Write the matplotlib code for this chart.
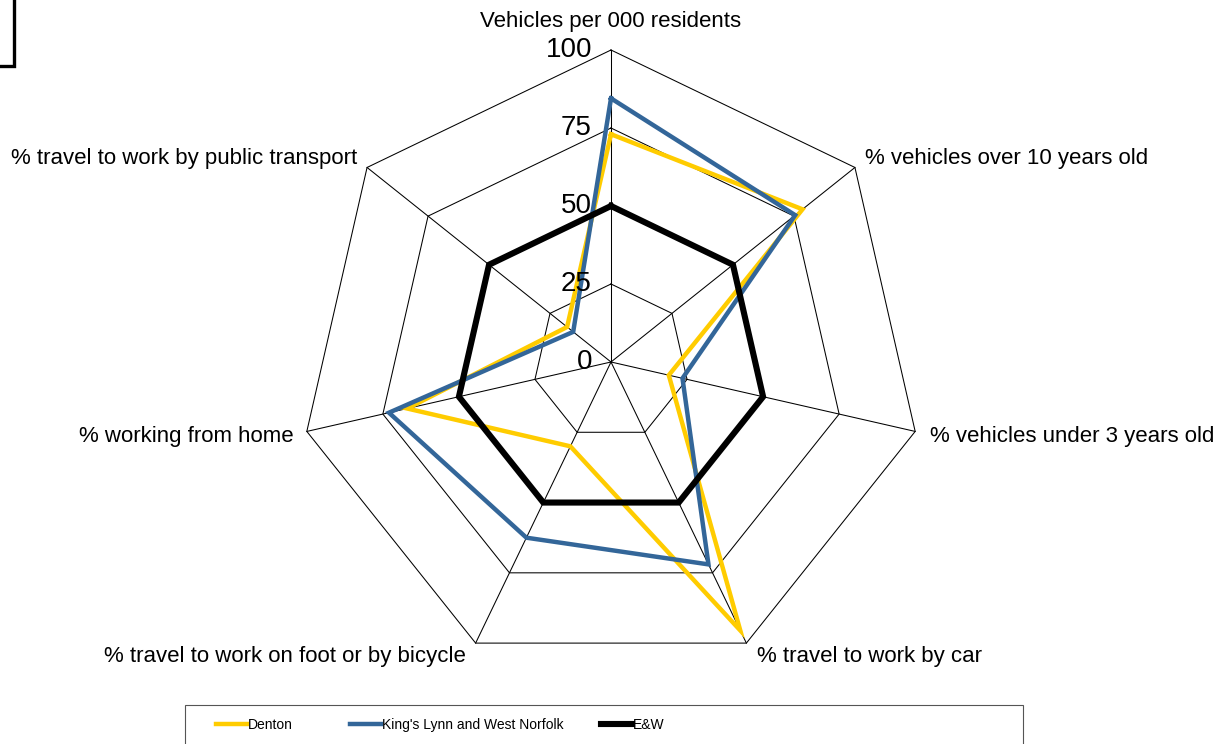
#!/usr/bin/env python3
"""Radar chart: vehicle ownership / travel to work, Denton vs King's Lynn vs E&W."""
import matplotlib

matplotlib.use("Agg")
import matplotlib.pyplot as plt
import numpy as np
from matplotlib.lines import Line2D
from matplotlib.patches import Rectangle

plt.rcParams["font.family"] = ["Liberation Sans", "DejaVu Sans"]

categories = [
    "Vehicles per 000 residents",
    "% vehicles over 10 years old",
    "% vehicles under 3 years old",
    "% travel to work by car",
    "% travel to work on foot or by bicycle",
    "% working from home",
    "% travel to work by public transport",
]
denton = [73, 78.5, 19, 95.5, 30, 67, 18]
kings_lynn = [84.5, 75.5, 23.5, 72, 62.5, 73, 15.5]
e_and_w = [50, 50, 50, 50, 50, 50, 50]
series_names = ["Denton", "King's Lynn and West Norfolk", "E&W"]
ring_levels = [25, 50, 75, 100]
tick_levels = [0, 25, 50, 75, 100]

COLORS = ["#FFCC00", "#336699", "#000000"]
WIDTHS = [3.2, 3.2, 4.4]

W, H, DPI = 1232, 744, 100
CX, CY, R = 611, 362, 312

fig = plt.figure(figsize=(W / DPI, H / DPI), dpi=DPI)
ax = fig.add_axes([(CX - R) / W, (H - CY - R) / H, 2 * R / W, 2 * R / H], projection="polar")
ax.set_theta_zero_location("N")
ax.set_theta_direction(-1)
ax.set_ylim(0, 100)
ax.grid(False)
ax.spines["polar"].set_visible(False)
ax.set_xticks([])
ax.set_yticks([])
ax.patch.set_visible(False)

n = len(categories)
theta = np.arange(n) * 2 * np.pi / n
theta_closed = np.append(theta, theta[0])

# heptagon rings + spokes
for lvl in ring_levels:
    ax.plot(theta_closed, [lvl] * (n + 1), color="black", lw=0.75, zorder=1, clip_on=False)
for t in theta:
    ax.plot([t, t], [0, 100], color="black", lw=0.75, zorder=1, clip_on=False)

for vals, name, col, lw in zip([denton, kings_lynn, e_and_w], series_names, COLORS, WIDTHS):
    ax.plot(theta_closed, list(vals) + [vals[0]], color=col, lw=lw, label=name,
            solid_joinstyle="miter", zorder=3, clip_on=False)

# radial tick labels
for lvl in tick_levels:
    ax.annotate(str(lvl), xy=(0, lvl), xytext=(-19, 0), textcoords="offset pixels",
                ha="right", va="center", fontsize=20, zorder=4)

# category labels
label_pos = [
    ((0, 18), "center", "bottom"),
    ((10, -2), "left", "bottom"),
    ((15, -5), "left", "center"),
    ((11, -3), "left", "top"),
    ((-10, -3), "right", "top"),
    ((-13, -5), "right", "center"),
    ((-10, -2), "right", "bottom"),
]
for t, lab, (off, ha, va) in zip(theta, categories, label_pos):
    ax.annotate(lab, xy=(t, 100), xytext=off, textcoords="offset pixels",
                ha=ha, va=va, fontsize=16, annotation_clip=False)

# legend box (bottom edge runs off the figure)
fig.add_artist(Rectangle((185 / W, -0.05), (1023 - 185) / W, 0.05 + (H - 705) / H,
                         transform=fig.transFigure, fill=False, lw=0.8, edgecolor="#555555"))
legend_x = [216, 350, 601]
for x0, name, col, lw in zip(legend_x, series_names, COLORS, WIDTHS):
    leg = fig.legend([Line2D([], [], color=col, lw=lw)], [name], loc="center left",
                     bbox_to_anchor=(x0 / W, (H - 725) / H), frameon=False,
                     borderpad=0, borderaxespad=0, handlelength=2.2, handletextpad=0.1,
                     prop={"size": 10})

# fragment of the title box in the top-left corner
fig.add_artist(Rectangle((-0.1, (H - 66) / H), 0.1 + 14 / W, 0.2,
                         transform=fig.transFigure, fill=False, lw=2.4, edgecolor="black"))

fig.savefig("out.png", dpi=DPI, facecolor="white")
